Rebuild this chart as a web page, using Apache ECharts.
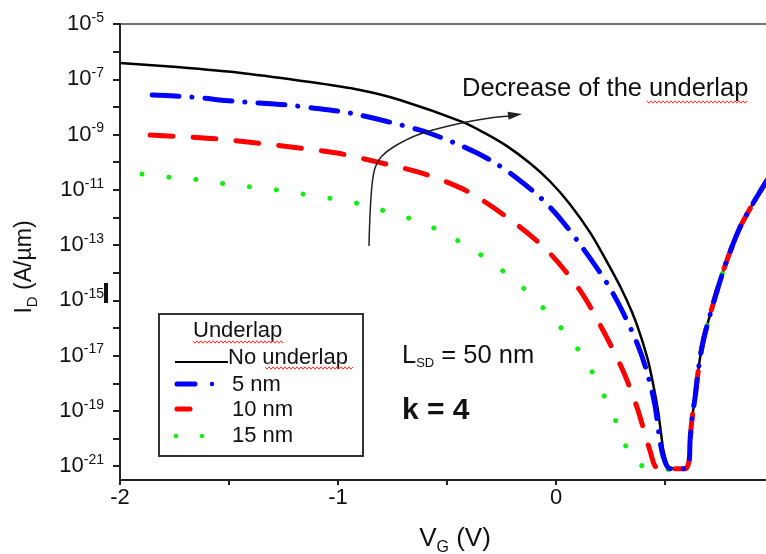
<!DOCTYPE html>
<html>
<head>
<meta charset="utf-8">
<script src="https://cdn.jsdelivr.net/npm/echarts@6/dist/echarts.min.js"></script>
<style>
html, body { margin: 0; padding: 0; background: #fff; }
#main { width: 766px; height: 554px; }
</style>
</head>
<body>
<div id="main"></div>
<script>
// gate voltage (V) and log10 of drain current (A/um)
var vgNoUnderlap = [-2.0, -1.739, -1.436, -1.128, -0.899, -0.716, -0.427, -0.326, -0.225, -0.119, -0.028, 0.064, 0.156, 0.225, 0.294, 0.349, 0.385, 0.422, 0.445, 0.468, 0.482, 0.495, 0.523];
var logNoUnderlap = [-6.41, -6.56, -6.78, -7.10, -7.39, -7.75, -8.55, -8.95, -9.42, -10.04, -10.69, -11.52, -12.54, -13.48, -14.49, -15.43, -16.20, -17.17, -18.01, -18.99, -19.82, -20.51, -21.05];

var vg5nm = [-1.853, -1.679, -1.482, -1.234, -1.115, -0.945, -0.624, -0.472, -0.362, -0.271, -0.179, -0.073, 0.018, 0.124, 0.234, 0.307, 0.376, 0.422, 0.454, 0.472, 0.491, 0.523];
var log5nm = [-7.57, -7.64, -7.79, -7.93, -8.04, -8.22, -8.84, -9.28, -9.67, -10.07, -10.58, -11.27, -12.03, -13.12, -14.38, -15.43, -16.63, -17.72, -18.80, -19.82, -20.62, -21.09];

var vg10nm = [-1.862, -1.601, -1.404, -1.206, -1.005, -0.817, -0.615, -0.417, -0.225, -0.041, 0.110, 0.216, 0.307, 0.372, 0.431, 0.463, 0.537];
var log10nm = [-9.02, -9.13, -9.28, -9.46, -9.67, -10.0, -10.40, -11.01, -11.99, -13.19, -14.64, -16.09, -17.54, -18.88, -20.43, -21.05, -21.09];

var vg15nm = [-1.899, -1.780, -1.656, -1.541, -1.427, -1.303, -1.188, -1.069, -0.954, -0.830, -0.716, -0.596, -0.477, -0.362, -0.248, -0.128, -0.028, 0.064, 0.142, 0.202, 0.257, 0.303, 0.349, 0.400, 0.463];
var log15nm = [-10.43, -10.54, -10.62, -10.76, -10.87, -10.98, -11.12, -11.27, -11.41, -11.67, -11.92, -12.25, -12.72, -13.26, -13.91, -14.71, -15.54, -16.38, -17.25, -18.15, -19.06, -19.89, -20.80, -21.00, -21.12];

// common branch after the minimum (all four curves overlap)
var vgRise = [0.592, 0.610, 0.615, 0.624, 0.638, 0.647, 0.661, 0.679, 0.702, 0.739, 0.784, 0.844, 0.904, 0.963, 1.0];
var logRise = [-21.09, -20.83, -20.07, -19.28, -18.51, -17.90, -17.07, -16.34, -15.65, -14.64, -13.55, -12.36, -11.49, -10.72, -10.29];

var xTicks = [-2, -1.5, -1, -0.5, 0, 0.5, 1];
var xLabels = [-2, -1, 0];
var yDecades = [-21, -20, -19, -18, -17, -16, -15, -14, -13, -12, -11, -10, -9, -8, -7, -6, -5];
var yLabels = [-21, -19, -17, -15, -13, -11, -9, -7, -5];

var FONT = 'Liberation Sans, Arial, sans-serif';

function buildData(vg, lg) {
	var out = [];
	for (var i = 0; i < vg.length; i++) {
		out.push([vg[i], lg[i]]);
	}
	var last = vg[vg.length - 1];
	for (var j = 0; j < vgRise.length; j++) {
		if (vgRise[j] > last) {
			out.push([vgRise[j], logRise[j]]);
		}
	}
	return out;
}

// minor ticks of the log axis
var yMinor = [];
for (var d = -22; d < -5; d++) {
	for (var k = 2; k <= 9; k++) {
		var t = d + Math.log10(k);
		if (t >= -21.5 && t <= -5) {
			yMinor.push(t);
		}
	}
}

function squiggle(x0, x1, y) {
	var pts = [];
	var up = true;
	for (var x = x0; x <= x1; x += 2) {
		pts.push([x, up ? y - 1.2 : y + 1.2]);
		up = !up;
	}
	return {
		type : 'polyline',
		shape : {points : pts},
		style : {stroke : '#ff2a2a', lineWidth : 1, fill : null},
		z : 20
	};
}

function label(x, y, text, size, weight) {
	return {
		type : 'text',
		x : x,
		y : y,
		style : {
			text : text,
			font : (weight || 'normal') + ' ' + size + 'px ' + FONT,
			fill : '#111',
			verticalAlign : 'middle',
			align : 'left'
		},
		z : 20
	};
}

var chartDom = document.getElementById('main');
var myChart = echarts.init(chartDom);

var graphics = [
	// legend box
	{
		type : 'rect',
		shape : {x : 159, y : 314, width : 204, height : 142},
		style : {fill : '#fff', stroke : '#333', lineWidth : 2},
		z : 15
	},
	label(193, 331, 'Underlap', 22),
	squiggle(193, 283, 342),
	{
		type : 'line',
		shape : {x1 : 175, y1 : 362, x2 : 228, y2 : 362},
		style : {stroke : '#000', lineWidth : 2},
		z : 20
	},
	label(228, 358, 'No underlap', 22),
	squiggle(265, 353, 368),
	{
		type : 'line',
		shape : {x1 : 177, y1 : 384, x2 : 195, y2 : 384},
		style : {stroke : '#0000ff', lineWidth : 5, lineCap : 'round'},
		z : 20
	},
	{
		type : 'circle',
		shape : {cx : 212, cy : 384, r : 2.2},
		style : {fill : '#0000ff'},
		z : 20
	},
	label(232, 385, '5 nm', 22),
	{
		type : 'line',
		shape : {x1 : 177, y1 : 409, x2 : 190, y2 : 409},
		style : {stroke : '#ff0000', lineWidth : 5, lineCap : 'round'},
		z : 20
	},
	label(232, 410, '10 nm', 22),
	{
		type : 'circle',
		shape : {cx : 176, cy : 436, r : 2.2},
		style : {fill : '#11ee11'},
		z : 20
	},
	{
		type : 'circle',
		shape : {cx : 202, cy : 436, r : 2.2},
		style : {fill : '#11ee11'},
		z : 20
	},
	label(232, 436, '15 nm', 22),

	// annotations
	label(462, 89, 'Decrease of the underlap', 25.5),
	squiggle(647, 748, 102),
	{
		type : 'text',
		x : 402,
		y : 356,
		style : {
			text : '{a|L}{s|SD}{a| = 50 nm}',
			fill : '#111',
			verticalAlign : 'middle',
			rich : {
				a : {fontSize : 25.5, fontFamily : FONT, fill : '#111'},
				s : {fontSize : 13, fontFamily : FONT, fill : '#111', padding : [14, 0, 0, 0]}
			}
		},
		z : 20
	},
	label(402, 411, 'k = 4', 30, 'bold'),

	// arrow
	{
		type : 'polyline',
		shape : {
			points : [[369, 246], [370, 215], [372, 185], [375, 168], [381, 157], [395, 146], [420, 134], [457, 124], [490, 118], [510, 116]],
			smooth : 0.3
		},
		style : {stroke : '#222', lineWidth : 1.5, fill : null},
		z : 20
	},
	{
		type : 'polygon',
		shape : {points : [[522, 114], [508.6, 119.7], [507.6, 111.7]]},
		style : {fill : '#222'},
		z : 20
	},
	// stray cursor mark next to the axis
	{
		type : 'rect',
		shape : {x : 104, y : 283, width : 4, height : 20},
		style : {fill : '#111'},
		z : 20
	}
];

var option = {
	animation : false,
	backgroundColor : '#fff',
	textStyle : {fontFamily : FONT},
	grid : {
		left : 120,
		right : -8,
		top : 24,
		bottom : 74,
		outerBoundsMode : 'none',
		containLabel : false,
		show : true,
		borderColor : '#444',
		borderWidth : 1.5,
		backgroundColor : 'transparent'
	},
	xAxis : {
		type : 'value',
		min : -2,
		max : 1,
		name : '{a|V}{s|G}{e| (V)}',
		nameLocation : 'middle',
		nameGap : 42,
		nameTextStyle : {
			rich : {
				a : {fontSize : 26, fontFamily : FONT, color : '#111', padding : [0, 0, 0, 16]},
				s : {fontSize : 16, fontFamily : FONT, color : '#111', padding : [18, 0, 0, 0]},
				e : {fontSize : 26, fontFamily : FONT, color : '#111'}
			}
		},
		axisLine : {onZero : false, lineStyle : {color : '#222', width : 2}},
		axisTick : {customValues : xTicks, length : 5, lineStyle : {color : '#222', width : 2}},
		axisLabel : {
			customValues : xLabels,
			fontSize : 22,
			color : '#111',
			margin : 7,
			formatter : function(v) {
				return String(v);
			}
		},
		splitLine : {show : false}
	},
	yAxis : [{
		type : 'value',
		min : -21.5,
		max : -5,
		name : '{a|I}{s|D}{e| (A/µm)}',
		nameLocation : 'middle',
		nameGap : 80,
		nameRotate : 90,
		nameTextStyle : {
			rich : {
				a : {fontSize : 23, fontFamily : FONT, color : '#111'},
				s : {fontSize : 15, fontFamily : FONT, color : '#111', padding : [16, 0, 0, 0]},
				e : {fontSize : 23, fontFamily : FONT, color : '#111', padding : [0, 30, 0, 0]}
			}
		},
		axisLine : {onZero : false, lineStyle : {color : '#222', width : 2}},
		axisTick : {customValues : yDecades, length : 7, lineStyle : {color : '#222', width : 2}},
		axisLabel : {
			customValues : yLabels,
			margin : 16,
			formatter : function(v) {
				return '{b|10}{s|' + v + '}';
			},
			rich : {
				b : {fontSize : 22, fontFamily : FONT, color : '#111'},
				s : {fontSize : 14, fontFamily : FONT, color : '#111', padding : [0, 0, 12, 0]}
			}
		},
		splitLine : {show : false}
	}, {
		type : 'value',
		min : -21.5,
		max : -5,
		axisLine : {show : false, onZero : false},
		axisTick : {customValues : yMinor, length : 4, lineStyle : {color : '#222', width : 1.5}},
		axisLabel : {show : false},
		splitLine : {show : false}
	}],
	series : [{
		name : 'No underlap',
		type : 'line',
		showSymbol : false,
		smooth : 0.3,
		data : buildData(vgNoUnderlap, logNoUnderlap),
		lineStyle : {color : '#000', width : 2.5}
	}, {
		name : '15 nm',
		type : 'line',
		showSymbol : false,
		smooth : 0.3,
		data : buildData(vg15nm, log15nm),
		lineStyle : {color : '#11ee11', width : 5, type : [0.1, 27], cap : 'round'}
	}, {
		name : '10 nm',
		type : 'line',
		showSymbol : false,
		smooth : 0.3,
		data : buildData(vg10nm, log10nm),
		lineStyle : {color : '#ff0000', width : 5, type : [23, 20], cap : 'round'}
	}, {
		name : '5 nm',
		type : 'line',
		showSymbol : false,
		smooth : 0.3,
		data : buildData(vg5nm, log5nm),
		lineStyle : {color : '#0000ff', width : 5, type : [27, 13, 0.1, 13], cap : 'round'}
	}],
	graphic : graphics
};

option && myChart.setOption(option);
</script>
</body>
</html>
